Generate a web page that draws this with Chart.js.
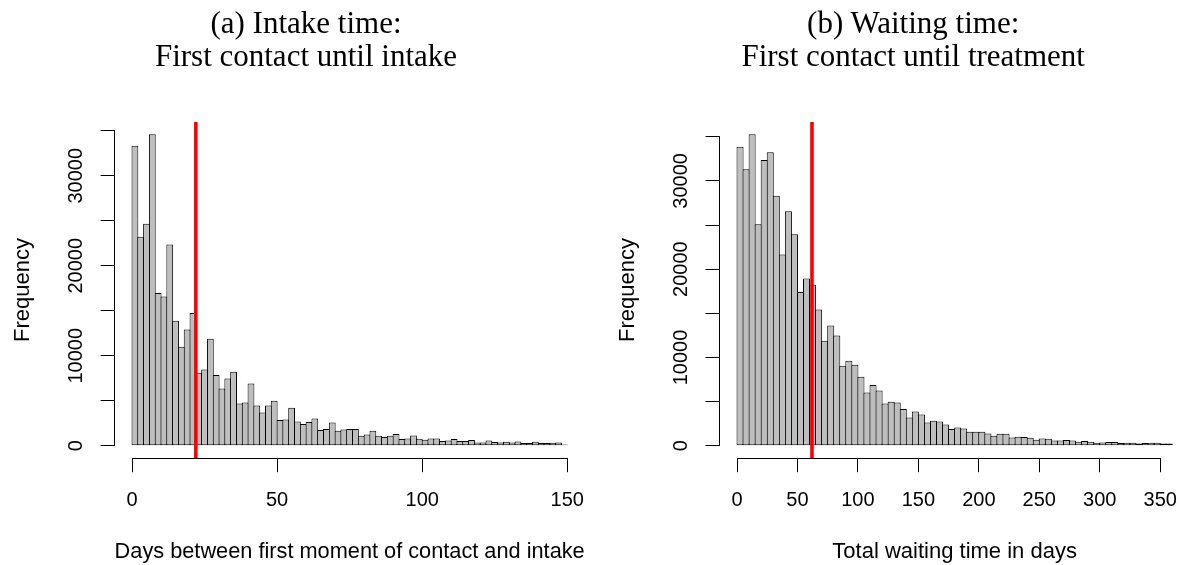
<!DOCTYPE html>
<html>
<head>
<meta charset="utf-8">
<script src="https://cdn.jsdelivr.net/npm/chart.js@4/dist/chart.umd.min.js"></script>
<style>
html,body{margin:0;padding:0;background:#fff;overflow:hidden;width:1180px;height:565px;position:relative;}
.panel{position:absolute;top:0;width:605px;height:565px;}
#pa{left:0px;}
#pb{left:604.7px;}
canvas{position:absolute;left:0;top:0;}
.cap{position:absolute;top:5.6px;width:605px;text-align:center;font-family:'Liberation Serif',serif;font-size:31px;line-height:33.5px;color:#000;white-space:nowrap;}
#capa{left:3.5px;}
#capb{left:6px;}
</style>
</head>
<body>
<div class="panel" id="pa"><canvas id="ca" width="605" height="565"></canvas><div class="cap" id="capa">(a) Intake time:<br>First contact until intake</div></div>
<div class="panel" id="pb"><canvas id="cb" width="605" height="565"></canvas><div class="cap" id="capb">(b) Waiting time:<br>First contact until treatment</div></div>
<script>
// ---- data ----
const intakeBinWidth = 2;   // days per bin, bins from 0 to 150
const intakeCounts = [
  33333, 23222, 24667, 34593, 16963, 16593, 22370, 13889, 11000, 12926,
  14741, 8111, 8481, 11889, 7852, 6370, 7481, 8222, 4704, 4815,
  6926, 4481, 3704, 4481, 5000, 2852, 2926, 4222, 2704, 2407,
  2630, 3037, 1741, 1870, 2593, 1667, 1815, 1852, 1852, 1111,
  1259, 1667, 1111, 963, 1111, 1296, 741, 815, 1148, 778,
  667, 815, 815, 519, 593, 741, 519, 519, 630, 370,
  370, 593, 407, 370, 444, 370, 481, 296, 296, 444,
  296, 296, 333, 370, 148
];
const intakeMedian = 22;
const intakeXTicks = [0, 50, 100, 150];
const intakeXTitle = 'Days between first moment of contact and intake';

const waitingBinWidth = 5;  // days per bin, bins from 0 to 360
const waitingCounts = [
  33871, 31303, 35268, 25073, 32360, 33229, 28320, 21674, 26545, 23940,
  17407, 18955, 18238, 15444, 11894, 13631, 12499, 9062, 9629, 9176,
  7816, 6042, 6872, 6268, 4796, 4984, 4909, 4154, 3210, 3889,
  3549, 2643, 2832, 2757, 2417, 1888, 2077, 1964, 1586, 1586,
  1586, 1397, 1133, 1359, 1359, 944, 1020, 982, 906, 680,
  831, 793, 604, 604, 642, 604, 453, 529, 453, 340,
  378, 415, 415, 302, 340, 340, 264, 302, 340, 340,
  264, 264
];
const waitingMedian = 62;
const waitingXTicks = [0, 50, 100, 150, 200, 250, 300, 350];
const waitingXTitle = 'Total waiting time in days';

const yTicks = [0, 5000, 10000, 15000, 20000, 25000, 30000, 35000];
const yLabelledTicks = [0, 10000, 20000, 30000];
const yTitle = 'Frequency';

// ---- drawing ----
Chart.defaults.font.family = "'Liberation Sans', Arial, sans-serif";
Chart.defaults.color = '#000';

const PLOT_W = 470.1;   // width of the plotting region in px

function alignPx(p) { return Math.round(p - 0.5) + 0.5; }

const rAxes = {
  id: 'rAxes',
  afterDraw(chart, args, opts) {
    const {ctx} = chart;
    const xs = chart.scales.x, ys = chart.scales.y;
    ctx.save();
    ctx.strokeStyle = '#000';
    ctx.lineWidth = 1;
    ctx.beginPath();
    const yb = alignPx(xs.top);
    ctx.moveTo(alignPx(xs.getPixelForValue(opts.xFrom)), yb);
    ctx.lineTo(alignPx(xs.getPixelForValue(opts.xTo)), yb);
    const xl = alignPx(ys.right);
    ctx.moveTo(xl, alignPx(ys.getPixelForValue(opts.yFrom)));
    ctx.lineTo(xl, alignPx(ys.getPixelForValue(opts.yTo)));
    ctx.stroke();
    ctx.restore();
  }
};

function makeHist(canvasId, counts, binWidth, median, xTicks, xTitle) {
  const n = counts.length;
  const xHi = n * binWidth;
  const yHi = Math.max(...counts);
  const xMin = -0.04 * xHi, xMax = 1.04 * xHi;
  const yMin = -0.04 * yHi, yMax = 1.04 * yHi;
  const bars = counts.map((c, i) => ({x: (i + 0.5) * binWidth, y: c}));
  // widen each bar by one pixel so neighbouring outlines coincide (single shared edge)
  const binPx = PLOT_W * binWidth / (xMax - xMin);
  const barPct = 1 + 1 / binPx;

  return new Chart(document.getElementById(canvasId), {
    type: 'bar',
    data: {
      datasets: [
        {
          type: 'line',
          order: 0,
          data: [{x: median, y: yMin}, {x: median, y: yMax}],
          borderColor: '#FF0000',
          borderWidth: 3.6,
          pointRadius: 0,
          fill: false,
          tension: 0
        },
        {
          type: 'bar',
          order: 1,
          data: bars,
          backgroundColor: '#BEBEBE',
          borderColor: '#000000',
          borderSkipped: false,
          borderWidth: 1,
          barPercentage: barPct,
          categoryPercentage: 1,
          inflateAmount: 0
        }
      ]
    },
    options: {
      responsive: false,
      animation: false,
      events: [],
      layout: {padding: {top: 121.9, right: 605 - 114.6 - PLOT_W, bottom: 0, left: 0}},
      plugins: {
        legend: {display: false},
        tooltip: {enabled: false},
        title: {display: false},
        rAxes: {xFrom: xTicks[0], xTo: xTicks[xTicks.length - 1], yFrom: yTicks[0], yTo: yTicks[yTicks.length - 1]}
      },
      scales: {
        x: {
          type: 'linear',
          min: xMin,
          max: xMax,
          offset: false,
          afterBuildTicks: (s) => { s.ticks = xTicks.map(v => ({value: v})); },
          afterFit: (s) => { s.height = 106.8; },
          grid: {display: true, drawOnChartArea: false, drawTicks: true, tickLength: 14, color: '#000', lineWidth: 1, offset: false},
          border: {display: false},
          ticks: {
            font: {size: 20},
            color: '#000',
            padding: 16,
            maxRotation: 0,
            minRotation: 0,
            autoSkip: false,
            callback: (v) => String(v)
          },
          title: {display: true, text: xTitle, font: {size: 22}, color: '#000', padding: {top: 0, bottom: 0}}
        },
        y: {
          type: 'linear',
          min: yMin,
          max: yMax,
          afterBuildTicks: (s) => { s.ticks = yTicks.map(v => ({value: v})); },
          afterFit: (s) => { s.width = 114.6; },
          grid: {display: true, drawOnChartArea: false, drawTicks: true, tickLength: 14, color: '#000', lineWidth: 1},
          border: {display: false},
          ticks: {
            font: {size: 20},
            color: '#000',
            padding: -4,
            minRotation: 90,
            maxRotation: 90,
            crossAlign: 'center',
            autoSkip: false,
            callback: (v) => yLabelledTicks.includes(v) ? String(v) : ''
          },
          title: {display: true, text: yTitle, font: {size: 22}, color: '#000', padding: {top: 10, bottom: 0}}
        }
      }
    },
    plugins: [rAxes]
  });
}

makeHist('ca', intakeCounts, intakeBinWidth, intakeMedian, intakeXTicks, intakeXTitle);
makeHist('cb', waitingCounts, waitingBinWidth, waitingMedian, waitingXTicks, waitingXTitle);
</script>
</body>
</html>
